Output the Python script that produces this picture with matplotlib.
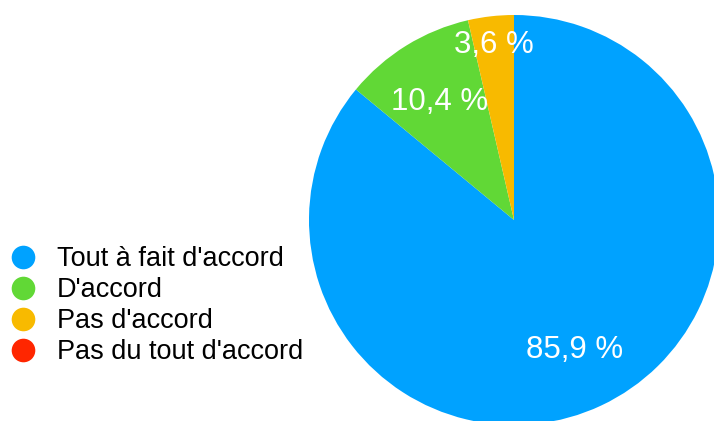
import numpy as np
import matplotlib.pyplot as plt

# Données du graphique
categories = ["Tout à fait d'accord", "D'accord", "Pas d'accord", "Pas du tout d'accord"]
values = [85.9, 10.4, 3.6, 0.0]
pct_labels = ["85,9 %", "10,4 %", "3,6 %", ""]
colors = ["#00A2FF", "#61D836", "#F8BA00", "#FF2600"]

W, H = 714, 421
plt.rcParams['font.family'] = ['Liberation Sans', 'DejaVu Sans']

fig = plt.figure(figsize=(W / 100, H / 100), dpi=100)
ax = fig.add_axes([0, 0, 1, 1])

# Camembert (coordonnées en pixels, y vers le haut)
cx, cy, r = 514, H - 220, 205
wedges, _ = ax.pie(values, colors=colors, startangle=90, counterclock=False,
                   center=(cx, cy), radius=r, frame=True,
                   wedgeprops=dict(linewidth=0))
ax.set_xlim(0, W)
ax.set_ylim(0, H)
ax.axis('off')

# Étiquettes de pourcentage
for w, lab, v in zip(wedges, pct_labels, values):
    if not lab:
        continue
    mid = np.deg2rad((w.theta1 + w.theta2) / 2)
    dist = 0.69 if v > 5 else 0.87
    ax.text(cx + dist * r * np.cos(mid), cy + dist * r * np.sin(mid) - 2, lab,
            color='white', fontsize=22.5, ha='center', va='center')

# Légende
for i, (cat, col) in enumerate(zip(categories, colors)):
    base = H - (266 + 31 * i)
    ax.plot(23, base + 9.5, 'o', color=col, markersize=17, markeredgewidth=0)
    ax.text(57, base, cat, fontsize=19.5, color='black', ha='left', va='baseline')

fig.savefig('out.png', dpi=100)
